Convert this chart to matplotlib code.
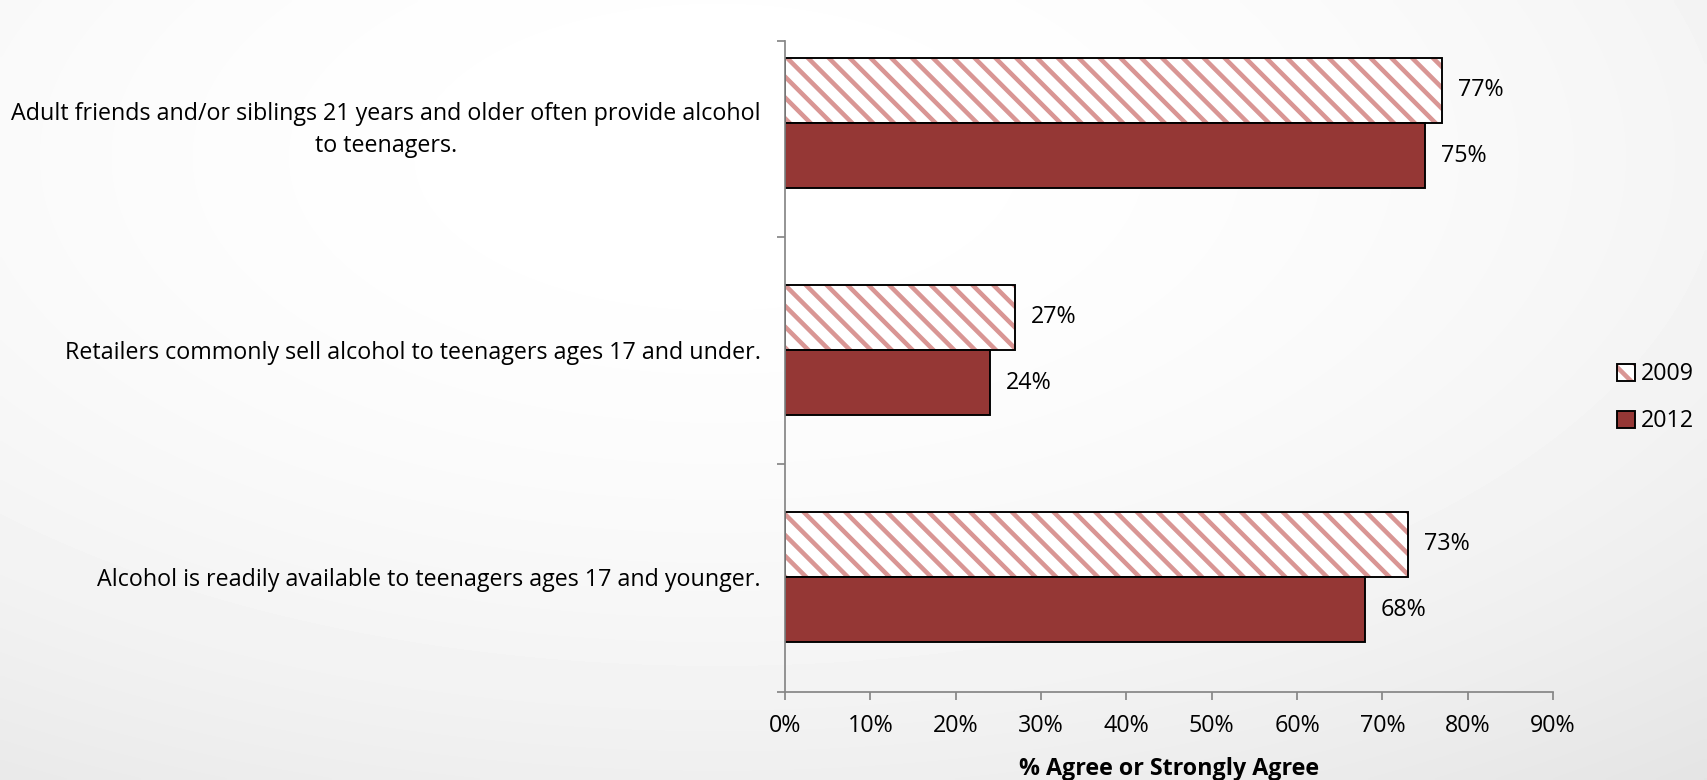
import numpy as np
import matplotlib
matplotlib.use("Agg")
from matplotlib import pyplot as plt
from matplotlib.patches import Patch
from matplotlib.legend_handler import HandlerTuple

# survey statements, bottom to top
statements = [
    "Alcohol is readily available to teenagers ages 17 and younger.",
    "Retailers commonly sell alcohol to teenagers ages 17 and under.",
    "Adult friends and/or siblings 21 years and older often provide alcohol\nto teenagers.",
]
agree_2009 = [73, 27, 77]
agree_2012 = [68, 24, 75]
years = ["2009", "2012"]
xticks = [0, 10, 20, 30, 40, 50, 60, 70, 80, 90]

pink = "#d99694"
maroon = "#953735"
axis_gray = "#868686"
FS = 13.4

plt.rcParams["font.family"] = ["Open Sans", "DejaVu Sans"]
plt.rcParams["hatch.linewidth"] = 2.6

DPI = 125
fig = plt.figure(figsize=(1707 / DPI, 780 / DPI), dpi=DPI)

# soft radial backdrop
bg = fig.add_axes([0, 0, 1, 1], zorder=-10)
gx, gy = np.meshgrid(np.linspace(0, 1, 400), np.linspace(0, 1, 200))
r2 = ((gx - 0.42) / 0.9) ** 2 + ((gy - 0.8) / 1.0) ** 2
shade = 1 - 0.10 * r2
bg.imshow(shade, cmap="gray", vmin=0, vmax=1, origin="lower",
          extent=[0, 1, 0, 1], aspect="auto", interpolation="bilinear")
bg.set_axis_off()

ax = fig.add_axes([0.4599, 0.1132, 0.4499, 0.8342])
ax.patch.set_alpha(0)

ypos = np.arange(len(statements))
bh = 0.288
# pink hatch first, black outline on top
ax.barh(ypos + bh / 2, agree_2009, height=bh, color="white", hatch="\\\\",
        edgecolor=pink, linewidth=0)
bars09 = ax.barh(ypos + bh / 2, agree_2009, height=bh, color="none",
                 edgecolor="black", linewidth=1.1)
bars12 = ax.barh(ypos - bh / 2, agree_2012, height=bh, color=maroon,
                 edgecolor="black", linewidth=1.1)

for bars, vals in [(bars09, agree_2009), (bars12, agree_2012)]:
    for b, v in zip(bars, vals):
        ax.annotate(f"{v}%", (v, b.get_y() + b.get_height() / 2),
                    xytext=(9, 0), textcoords="offset points",
                    va="center", ha="left", fontsize=FS)

ax.set_xlim(0, 90)
ax.set_ylim(-0.505, 2.361)
ax.set_xticks(xticks)
ax.set_xticklabels([f"{t}%" for t in xticks], fontsize=FS)
ax.set_yticks(ypos)
ax.set_yticklabels(statements, fontsize=FS, multialignment="center",
                   linespacing=1.45)
ax.set_yticks([-0.505, 0.5, 1.5, 2.361], minor=True)

for s in ["top", "right"]:
    ax.spines[s].set_visible(False)
for s in ["left", "bottom"]:
    ax.spines[s].set_color(axis_gray)
    ax.spines[s].set_linewidth(1.0)

ax.tick_params(axis="x", direction="out", length=4.6, width=1.0,
               color=axis_gray, pad=8)
ax.tick_params(axis="y", which="major", length=0, pad=14)
ax.tick_params(axis="y", which="minor", direction="out", length=4.6,
               width=1.0, color=axis_gray)

ax.set_xlabel("% Agree or Strongly Agree", fontsize=FS, fontweight="bold",
              labelpad=11)

h09 = (Patch(facecolor="white", hatch="\\\\", edgecolor=pink, linewidth=0),
       Patch(facecolor="none", edgecolor="black", linewidth=1.1))
h12 = Patch(facecolor=maroon, edgecolor="black", linewidth=1.1)
fig.legend([h09, h12], years, loc="center left", bbox_to_anchor=(0.942, 0.49),
           frameon=False, fontsize=FS, handlelength=0.75, handleheight=0.75,
           handletextpad=0.25, labelspacing=1.0, borderaxespad=0,
           handler_map={tuple: HandlerTuple(ndivide=1, pad=0)})

fig.savefig("out.png", dpi=DPI)
